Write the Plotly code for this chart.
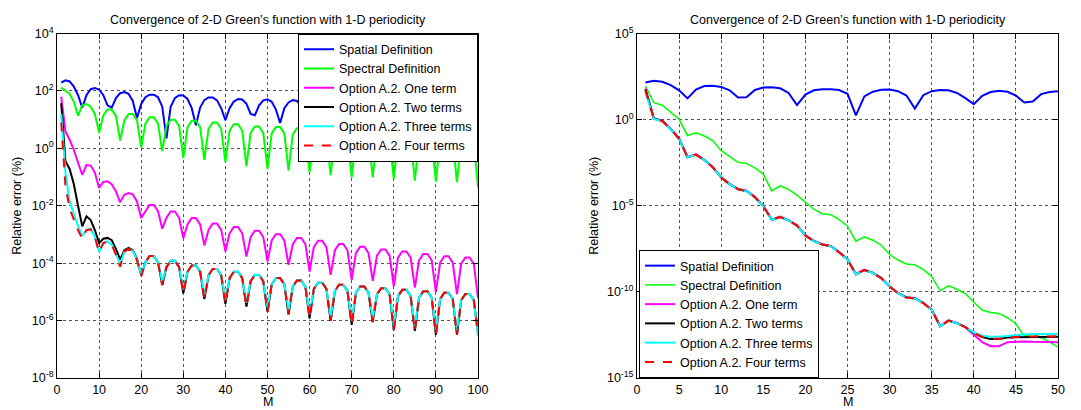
import numpy as np
import plotly.graph_objects as go

# ---------------- data (log10 of relative error in %) ----------------
M_left = list(range(1, 101))
M_right = list(range(1, 51))

series_names = ["Spatial Definition", "Spectral Definition", "Option A.2. One term",
                "Option A.2. Two terms", "Option A.2. Three terms", "Option A.2. Four terms"]

left_tick_exps = [4, 2, 0, -2, -4, -6, -8]
right_tick_exps = [5, 0, -5, -10, -15]

spatial_left_log = [
    2.29, 2.37, 2.33, 2.15, 1.85, 1.42, 1.85, 2.06, 2.10, 2.05,
    1.85, 1.50, 1.42, 1.75, 1.92, 1.96, 1.90, 1.65, 1.06, 1.55,
    1.78, 1.87, 1.87, 1.78, 1.45, 0.35, 1.45, 1.75, 1.85, 1.84,
    1.72, 1.40, 0.80, 1.42, 1.68, 1.77, 1.77, 1.67, 1.40, 0.98,
    1.40, 1.63, 1.72, 1.70, 1.55, 1.20, 1.15, 1.50, 1.67, 1.71,
    1.62, 1.35, 0.88, 1.40, 1.60, 1.68, 1.65, 1.50, 1.15, 1.10,
    1.45, 1.62, 1.66, 1.58, 1.35, 0.80, 1.35, 1.58, 1.65, 1.62,
    1.48, 1.15, 1.00, 1.42, 1.60, 1.64, 1.58, 1.38, 0.95, 1.25,
    1.50, 1.62, 1.63, 1.52, 1.25, 0.90, 1.35, 1.55, 1.62, 1.60,
    1.45, 1.10, 1.05, 1.42, 1.58, 1.62, 1.57, 1.40, 1.00, 1.30]

spectral_left_log = [
    2.12, 2.02, 1.90, 1.62, 1.14, 1.50, 1.54, 1.45, 1.20, 0.54,
    1.15, 1.35, 1.35, 1.13, 0.27, 0.98, 1.20, 1.20, 0.98, 0.03,
    0.86, 1.08, 1.08, 0.86, -0.10, 0.78, 1.00, 1.00, 0.78, -0.33,
    0.74, 0.96, 0.96, 0.74, -0.40, 0.68, 0.90, 0.90, 0.68, -0.48,
    0.62, 0.84, 0.84, 0.62, -0.63, 0.54, 0.76, 0.76, 0.54, -0.72,
    0.52, 0.74, 0.74, 0.52, -0.78, 0.48, 0.70, 0.70, 0.48, -0.84,
    0.44, 0.66, 0.66, 0.44, -0.93, 0.41, 0.63, 0.63, 0.41, -1.01,
    0.38, 0.60, 0.60, 0.38, -1.01, 0.35, 0.57, 0.57, 0.35, -1.07,
    0.32, 0.54, 0.54, 0.32, -1.13, 0.30, 0.52, 0.52, 0.30, -1.16,
    0.28, 0.50, 0.50, 0.28, -1.18, 0.26, 0.48, 0.48, 0.26, -1.36]

one_term_left_log = [
    1.80, 0.60, 0.30, -0.05, -0.50, -0.92, -0.58, -0.60, -0.85, -1.38,
    -1.17, -1.15, -1.25, -1.50, -1.88, -1.62, -1.56, -1.60, -1.85, -2.43,
    -2.19, -1.97, -1.97, -2.19, -2.80, -2.42, -2.20, -2.20, -2.42, -3.13,
    -2.65, -2.43, -2.43, -2.65, -3.38, -2.84, -2.62, -2.62, -2.84, -3.59,
    -2.96, -2.74, -2.74, -2.96, -3.77, -3.09, -2.87, -2.87, -3.09, -3.94,
    -3.21, -2.99, -2.99, -3.21, -4.06, -3.34, -3.12, -3.12, -3.34, -4.29,
    -3.44, -3.22, -3.22, -3.44, -4.41, -3.55, -3.33, -3.33, -3.55, -4.58,
    -3.65, -3.43, -3.43, -3.65, -4.62, -3.74, -3.52, -3.52, -3.74, -4.81,
    -3.81, -3.59, -3.59, -3.81, -4.85, -3.90, -3.68, -3.68, -3.90, -5.01,
    -3.98, -3.76, -3.76, -3.98, -5.08, -4.02, -3.80, -3.80, -4.02, -5.22]

two_terms_left_log = [
    1.57, -0.45, -0.72, -1.25, -2.00, -2.72, -2.37, -2.50, -2.85, -3.30,
    -3.15, -3.12, -3.20, -3.50, -3.88, -3.55, -3.47, -3.55, -3.85, -4.42,
    -3.97, -3.75, -3.75, -3.97, -4.76, -4.14, -3.92, -3.92, -4.14, -5.05,
    -4.30, -4.08, -4.08, -4.30, -5.25, -4.42, -4.20, -4.20, -4.42, -5.42,
    -4.52, -4.30, -4.30, -4.52, -5.51, -4.63, -4.41, -4.41, -4.63, -5.70,
    -4.74, -4.52, -4.52, -4.74, -5.78, -4.82, -4.60, -4.60, -4.82, -5.92,
    -4.90, -4.68, -4.68, -4.90, -6.01, -4.97, -4.75, -4.75, -4.97, -6.15,
    -5.03, -4.81, -4.81, -5.03, -6.05, -5.09, -4.87, -4.87, -5.09, -6.33,
    -5.15, -4.93, -4.93, -5.15, -6.36, -5.20, -4.98, -4.98, -5.20, -6.50,
    -5.25, -5.03, -5.03, -5.25, -6.50, -5.29, -5.07, -5.07, -5.29, -6.45]

three_terms_left_log = [
    1.20, -0.85, -1.85, -2.30, -2.70, -3.05, -2.84, -2.80, -3.08, -3.60,
    -3.30, -3.25, -3.35, -3.68, -4.05, -3.60, -3.50, -3.57, -3.88, -4.38,
    -3.97, -3.75, -3.75, -3.97, -4.65, -4.14, -3.92, -3.92, -4.14, -4.92,
    -4.30, -4.08, -4.08, -4.30, -5.10, -4.42, -4.20, -4.20, -4.42, -5.28,
    -4.52, -4.30, -4.30, -4.52, -5.38, -4.63, -4.41, -4.41, -4.63, -5.55,
    -4.74, -4.52, -4.52, -4.74, -5.63, -4.82, -4.60, -4.60, -4.82, -5.78,
    -4.90, -4.68, -4.68, -4.90, -5.86, -4.97, -4.75, -4.75, -4.97, -6.00,
    -5.03, -4.81, -4.81, -5.03, -5.92, -5.09, -4.87, -4.87, -5.09, -6.18,
    -5.15, -4.93, -4.93, -5.15, -6.22, -5.20, -4.98, -4.98, -5.20, -6.32,
    -5.25, -5.03, -5.03, -5.25, -6.35, -5.29, -5.07, -5.07, -5.29, -6.55]

four_terms_left_log = [
    0.90, -1.30, -2.10, -2.50, -2.85, -3.15, -2.85, -2.82, -3.10, -3.62,
    -3.30, -3.25, -3.35, -3.70, -4.12, -3.60, -3.50, -3.58, -3.90, -4.45,
    -3.97, -3.75, -3.75, -3.97, -4.76, -4.14, -3.92, -3.92, -4.14, -5.05,
    -4.30, -4.08, -4.08, -4.30, -5.25, -4.42, -4.20, -4.20, -4.42, -5.42,
    -4.52, -4.30, -4.30, -4.52, -5.51, -4.63, -4.41, -4.41, -4.63, -5.70,
    -4.74, -4.52, -4.52, -4.74, -5.78, -4.82, -4.60, -4.60, -4.82, -5.92,
    -4.90, -4.68, -4.68, -4.90, -6.01, -4.97, -4.75, -4.75, -4.97, -6.15,
    -5.03, -4.81, -4.81, -5.03, -6.05, -5.09, -4.87, -4.87, -5.09, -6.33,
    -5.15, -4.93, -4.93, -5.15, -6.36, -5.20, -4.98, -4.98, -5.20, -6.50,
    -5.25, -5.03, -5.03, -5.25, -6.50, -5.29, -5.07, -5.07, -5.29, -6.45]

spatial_right_log = [
    2.15, 2.25, 2.20, 2.00, 1.70, 1.23, 1.75, 1.95, 1.97, 1.90,
    1.70, 1.28, 1.30, 1.72, 1.86, 1.88, 1.82, 1.55, 0.84, 1.45,
    1.70, 1.77, 1.77, 1.72, 1.50, 0.25, 1.35, 1.62, 1.73, 1.75,
    1.65, 1.40, 0.64, 1.42, 1.65, 1.72, 1.70, 1.55, 1.25, 0.90,
    1.38, 1.60, 1.68, 1.62, 1.40, 1.00, 1.05, 1.48, 1.60, 1.65]

spectral_right_log = [
    1.95, 0.98, 0.84, 0.45, 0.02, -0.92, -0.76, -0.95, -1.22, -1.80,
    -2.15, -2.48, -2.54, -2.80, -3.16, -4.14, -3.85, -4.05, -4.38, -4.79,
    -5.20, -5.46, -5.52, -5.80, -6.19, -7.06, -6.81, -7.00, -7.28, -7.83,
    -8.15, -8.38, -8.42, -8.70, -9.10, -9.94, -9.65, -9.85, -10.10, -10.60,
    -11.05, -11.20, -11.25, -11.50, -11.85, -12.58, -12.44, -12.65, -12.90, -13.21]

one_term_right_log = [
    1.80, 0.08, -0.06, -0.53, -1.09, -2.17, -2.01, -2.33, -2.75, -3.34,
    -3.73, -4.02, -4.12, -4.48, -5.01, -5.79, -5.63, -5.83, -6.13, -6.71,
    -7.03, -7.23, -7.33, -7.68, -8.10, -8.96, -8.71, -8.88, -9.18, -9.67,
    -10.06, -10.31, -10.36, -10.63, -11.02, -11.98, -11.65, -11.80, -12.05, -12.50,
    -12.92, -13.15, -13.15, -12.92, -12.88, -12.88, -12.90, -12.90, -12.90, -12.92]

two_terms_right_log = [
    1.75, 0.06, -0.08, -0.55, -1.11, -2.19, -2.03, -2.35, -2.77, -3.36,
    -3.75, -4.04, -4.14, -4.50, -5.03, -5.81, -5.65, -5.85, -6.15, -6.73,
    -7.05, -7.25, -7.35, -7.70, -8.12, -8.98, -8.73, -8.90, -9.20, -9.69,
    -10.08, -10.33, -10.38, -10.65, -11.04, -12.00, -11.67, -11.82, -12.05, -12.38,
    -12.62, -12.73, -12.73, -12.65, -12.63, -12.62, -12.60, -12.60, -12.60, -12.60]

three_terms_right_log = [
    1.60, 0.04, -0.09, -0.56, -1.12, -2.19, -2.03, -2.35, -2.77, -3.36,
    -3.75, -4.04, -4.14, -4.50, -5.03, -5.81, -5.65, -5.85, -6.15, -6.73,
    -7.05, -7.25, -7.35, -7.70, -8.12, -8.98, -8.73, -8.90, -9.20, -9.69,
    -10.08, -10.33, -10.38, -10.65, -11.04, -12.00, -11.67, -11.82, -12.05, -12.36,
    -12.55, -12.60, -12.60, -12.55, -12.50, -12.48, -12.45, -12.45, -12.44, -12.44]

four_terms_right_log = [
    1.70, 0.06, -0.08, -0.55, -1.11, -2.19, -2.03, -2.35, -2.77, -3.36,
    -3.75, -4.04, -4.14, -4.50, -5.03, -5.81, -5.65, -5.85, -6.15, -6.73,
    -7.05, -7.25, -7.35, -7.70, -8.12, -8.98, -8.73, -8.90, -9.20, -9.69,
    -10.08, -10.33, -10.38, -10.65, -11.04, -12.00, -11.67, -11.82, -12.05, -12.38,
    -12.62, -12.72, -12.72, -12.66, -12.62, -12.60, -12.60, -12.60, -12.60, -12.58]

left_series = [spatial_left_log, spectral_left_log, one_term_left_log,
               two_terms_left_log, three_terms_left_log, four_terms_left_log]
right_series = [spatial_right_log, spectral_right_log, one_term_right_log,
                two_terms_right_log, three_terms_right_log, four_terms_right_log]

colors = ["#0000FF", "#00FF00", "#FF00FF", "#000000", "#00FFFF", "#FF0000"]
dashes = ["solid", "solid", "solid", "solid", "solid", "dash"]
widths_left = [2, 2, 2, 2, 2, 2]
widths_right = [2, 1.5, 2, 2, 2, 2]

title_text = "Convergence of 2-D Green’s function with 1-D periodicity"

# ---------------- figure ----------------
W, H = 1081, 410
FONT = "Liberation Sans, Arial, Helvetica, sans-serif"

fig = go.Figure()
for name, vals, c, d, w in zip(series_names, left_series, colors, dashes, widths_left):
    fig.add_trace(go.Scatter(x=M_left, y=10 ** np.array(vals), mode="lines", name=name,
                             line=dict(color=c, dash=d, width=w),
                             xaxis="x", yaxis="y", legend="legend"))
for name, vals, c, d, w in zip(series_names, right_series, colors, dashes, widths_right):
    fig.add_trace(go.Scatter(x=M_right, y=10 ** np.array(vals), mode="lines", name=name,
                             line=dict(color=c, dash=d, width=w),
                             xaxis="x2", yaxis="y2", legend="legend2"))

def px_x(p):
    return p / W

def px_y(p):
    return 1 - p / H

axis_common = dict(showline=True, linecolor="black", linewidth=1, mirror="ticks",
                   ticks="inside", ticklen=5, tickcolor="black", automargin=False,
                   showgrid=True, gridcolor="#555555", griddash="dot", gridwidth=1,
                   zeroline=False, tickfont=dict(family=FONT, size=12.5, color="black"))

def pow_labels(exps):
    return [10.0 ** e for e in exps], ["10<sup>%d</sup>" % e for e in exps]

lv, lt = pow_labels(left_tick_exps)
rv, rt = pow_labels(right_tick_exps)

L0, L1 = 57, 478
R0, R1 = 637, 1058
T, B = 33.5, 378

fig.update_layout(
    width=W, height=H,
    margin=dict(l=0, r=0, t=0, b=0, autoexpand=False),
    paper_bgcolor="white", plot_bgcolor="white",
    font=dict(family=FONT, size=12, color="black"),
    xaxis=dict(domain=[px_x(L0), px_x(L1)], range=[0, 100], dtick=10, anchor="y", **axis_common),
    yaxis=dict(domain=[px_y(B), px_y(T)], type="log", range=[-8, 4],
               tickmode="array", tickvals=lv, ticktext=lt, anchor="x", **axis_common),
    xaxis2=dict(domain=[px_x(R0), px_x(R1)], range=[0, 50], dtick=5, anchor="y2", **axis_common),
    yaxis2=dict(domain=[px_y(B), px_y(T)], type="log", range=[-15, 5],
                tickmode="array", tickvals=rv, ticktext=rt, anchor="x2", **axis_common),
    legend=dict(x=px_x(L1), xanchor="right", y=px_y(T), yanchor="top",
                bgcolor="white", bordercolor="black", borderwidth=1,
                font=dict(family=FONT, size=12.5, color="black"), tracegroupgap=0),
    legend2=dict(x=px_x(R0 + 2), xanchor="left", y=px_y(B), yanchor="bottom",
                 bgcolor="white", bordercolor="black", borderwidth=1,
                 font=dict(family=FONT, size=12.5, color="black"), tracegroupgap=0),
    showlegend=True,
)

ann = []
for cx in [(L0 + L1) / 2, (R0 + R1) / 2]:
    ann.append(dict(text=title_text, x=px_x(cx), y=px_y(20), xref="paper", yref="paper",
                    xanchor="center", yanchor="middle", showarrow=False,
                    font=dict(family=FONT, size=12.5, color="black")))
    ann.append(dict(text="M", x=px_x(cx), y=px_y(402), xref="paper", yref="paper",
                    xanchor="center", yanchor="middle", showarrow=False,
                    font=dict(family=FONT, size=12.5, color="black")))
for lx in [17, 594]:
    ann.append(dict(text="Relative error (%)", x=px_x(lx), y=px_y((T + B) / 2),
                    xref="paper", yref="paper", xanchor="center", yanchor="middle",
                    textangle=-90, showarrow=False,
                    font=dict(family=FONT, size=12.5, color="black")))
fig.update_layout(annotations=ann)

fig.write_html("out.html",
               config={"displayModeBar": False},
               post_script="document.body.style.margin='0';document.body.style.padding='0';")
